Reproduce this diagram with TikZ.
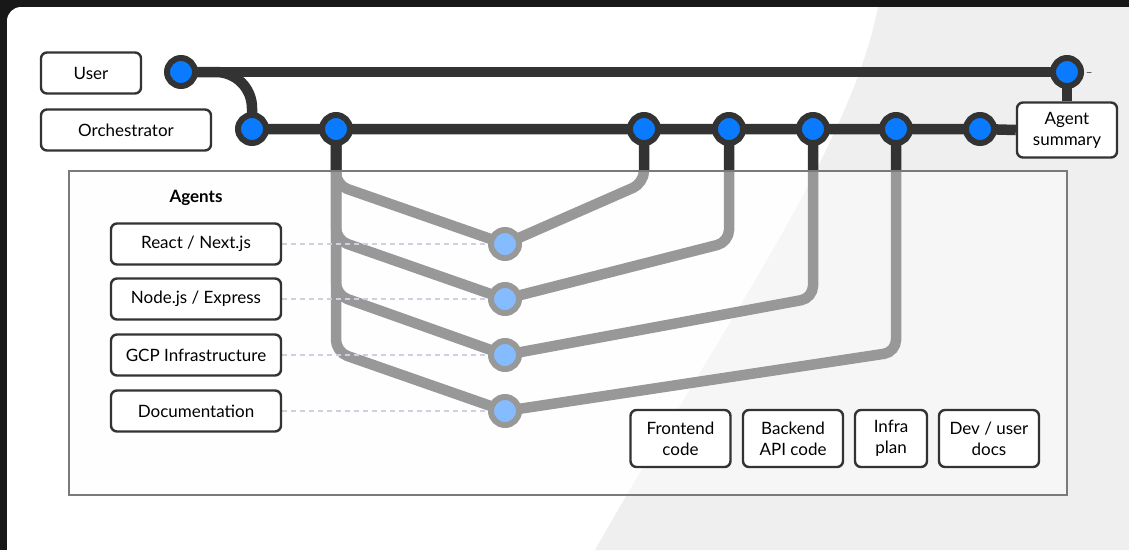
\documentclass[tikz,border=0pt]{standalone}
\usepackage{fontspec}
\setmainfont{Lato}
\definecolor{frame}{HTML}{181818}
\definecolor{track}{HTML}{333333}
\definecolor{dotblue}{HTML}{0A7BFF}
\definecolor{greypane}{HTML}{EFEFEF}
\definecolor{veil}{RGB}{254,254,255}
\definecolor{dashgrey}{RGB}{160,160,190}
\definecolor{boxgrey}{HTML}{7A7A7A}
\pgfdeclarelayer{paper}
\pgfdeclarelayer{rails}
\pgfdeclarelayer{veiled}
\pgfdeclarelayer{front}
\pgfsetlayers{paper,rails,main,veiled,front}

\begin{document}
\begin{tikzpicture}[x=1pt, y=-1pt, line cap=round, line join=round,
  font=\fontsize{17}{21}\selectfont]
\tikzset{
    hub/.style={circle, draw=track, line width=6pt, fill=dotblue, minimum size=28pt, inner sep=0pt},
    rail/.style={draw=track, line width=10.5pt, rounded corners=12pt},
    tagbox/.style={draw=track, line width=2.4pt, rounded corners=6pt, fill=white, align=center, inner sep=0pt},
    link/.style={draw=dashgrey, line width=1.2pt, dash pattern=on 5pt off 4pt, line cap=butt}
}
\useasboundingbox (0,0) rectangle (1129,550);

% backdrop
\begin{pgfonlayer}{paper}
\fill[frame] (0,0) rectangle (1129,550);
\fill[white, rounded corners=14pt] (7,7) rectangle (1160,580);
\fill[greypane] (878,7) .. controls (850,150) and (720,330) .. (595,550) -- (1129,550) -- (1129,7) -- cycle;
\end{pgfonlayer}

% stops
\node[hub] (u) at (181,72) {};
\node[hub] (s) at (1067,72) {};
\node[hub] (o1) at (252,129) {};
\node[hub] (o2) at (336,129) {};
\node[hub] (o3) at (644,129) {};
\node[hub] (o4) at (729,129) {};
\node[hub] (o5) at (813,129) {};
\node[hub] (o6) at (896,129) {};
\node[hub] (o7) at (980,129) {};
\node[hub] (a1) at (505,244) {};
\node[hub] (a2) at (505,299) {};
\node[hub] (a3) at (505,355) {};
\node[hub] (a4) at (505,411) {};

% labels
\begin{pgfonlayer}{front}
\node[tagbox, minimum width=100, minimum height=41] (user) at (91,73) {User};
\node[tagbox, minimum width=170, minimum height=41] (orch) at (126,130) {Orchestrator};
\node[tagbox, minimum width=100, minimum height=55] (summary) at (1067,130) {Agent\\summary};
\node[font=\fontsize{17}{21}\selectfont\bfseries] (agentstitle) at (196,198) {Agents};
\node[tagbox, minimum width=170, minimum height=41] (react) at (196,244) {React / Next.js};
\node[tagbox, minimum width=170, minimum height=41] (nodejs) at (196,299) {Node.js / Express};
\node[tagbox, minimum width=170, minimum height=41] (gcp) at (196,355) {GCP Infrastructure};
\node[tagbox, minimum width=170, minimum height=41] (docs) at (196,411) {Documentation};
\node[tagbox, minimum width=100, minimum height=57] (frontend) at (680.5,438.5) {Frontend\\code};
\node[tagbox, minimum width=100, minimum height=57] (backend) at (793,438.5) {Backend\\API code};
\node[tagbox, minimum width=72, minimum height=57] (infra) at (891,438.5) {Infra\\plan};
\node[tagbox, minimum width=100, minimum height=57] (devdocs) at (989,438.5) {Dev / user\\docs};
\end{pgfonlayer}

% agent pool, washes out what runs beneath it
\begin{pgfonlayer}{veiled}
\node[draw=boxgrey, line width=2pt, fill=veil, fill opacity=0.5, minimum width=998, minimum height=324, inner sep=0pt] (pool) at (568,333) {};
\end{pgfonlayer}

% tracks
\begin{pgfonlayer}{rails}
\draw[rail] (u.center) -- (s.center);
\draw[rail, rounded corners=36pt] (u.center) -- (o1.center |- u.center) -- (o1.center);
\draw[rail] (o1.center) -- (o7.center) -- (summary.west);
\draw[rail] (s.center) -- (summary.north);
\draw[rail] (o2.center) -- ++(0,56) -- (a1.center);
\draw[rail] (o2.center) -- ++(0,111) -- (a2.center);
\draw[rail] (o2.center) -- ++(0,166) -- (a3.center);
\draw[rail] (o2.center) -- ++(0,223) -- (a4.center);
\draw[rail] (a1.center) -- ++(139,-61) -- (o3.center);
\draw[rail] (a2.center) -- ++(224,-57) -- (o4.center);
\draw[rail] (a3.center) -- ++(308,-57) -- (o5.center);
\draw[rail] (a4.center) -- ++(391,-59) -- (o6.center);
\draw[link] (react.east) -- (a1.center);
\draw[link] (nodejs.east) -- (a2.center);
\draw[link] (gcp.east) -- (a3.center);
\draw[link] (docs.east) -- (a4.center);
\end{pgfonlayer}
\draw[black!60, line width=1pt] (s.east) ++(3,0) -- ++(4,0);
\end{tikzpicture}
\end{document}
